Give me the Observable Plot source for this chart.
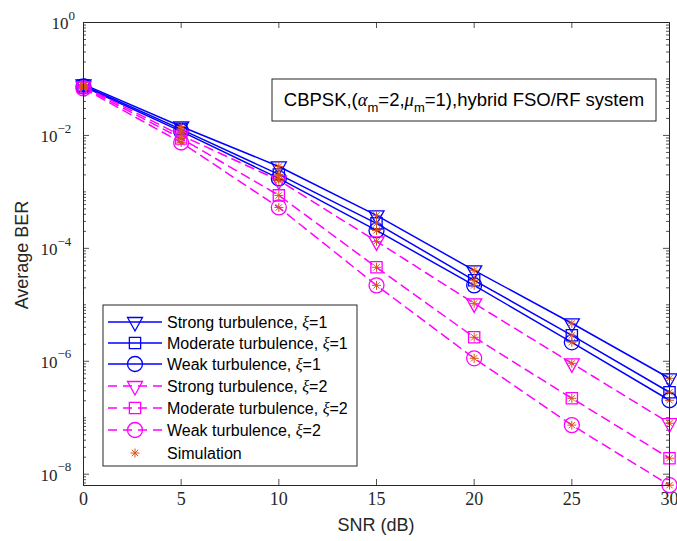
<!DOCTYPE html>
<html><head><meta charset="utf-8">
<script src="https://cdn.jsdelivr.net/npm/d3@7"></script>
<script src="https://cdn.jsdelivr.net/npm/@observablehq/plot@0.6"></script>
<style>
body{margin:0;background:#fff}
#chart{width:677px;height:541px}
</style>
</head><body><div id="chart"></div>
<script>
// ---- data ----
const snr = [0, 5, 10, 15, 20, 25, 30];
const strongXi1   = [0.080, 0.0144, 2.82e-3, 3.84e-4, 4.08e-5, 4.71e-6, 5.0e-7];
const moderateXi1 = [0.0767, 0.0128, 2.04e-3, 2.77e-4, 2.72e-5, 2.88e-6, 2.83e-7];
const weakXi1     = [0.0736, 0.0118, 1.73e-3, 2.08e-4, 2.21e-5, 2.17e-6, 2.04e-7];
const strongXi2   = [0.0736, 0.0100, 1.60e-3, 1.33e-4, 1.06e-5, 9.2e-7, 8.0e-8];
const moderateXi2 = [0.0708, 8.85e-3, 8.67e-4, 4.61e-5, 2.66e-6, 2.21e-7, 1.92e-8];
const weakXi2     = [0.0680, 7.5e-3, 5.3e-4, 2.21e-5, 1.13e-6, 7.4e-8, 6.4e-9];
const seriesLabels = ["Strong turbulence, ", "Moderate turbulence, ", "Weak turbulence, ",
                      "Strong turbulence, ", "Moderate turbulence, ", "Weak turbulence, "];
const seriesXi = ["1","1","1","2","2","2"];
const simLabel = "Simulation";
const xTicks = [0, 5, 10, 15, 20, 25, 30];
const yTicks = [1, 1e-2, 1e-4, 1e-6, 1e-8];
const yTickExp = ["0", "\u22122", "\u22124", "\u22126", "\u22128"];

// ---- styles ----
const BLUE = "#0000ff", MAG = "#ff00ff", SIM = "#d95319", AX = "#262626";
const serif = "'Liberation Serif', 'DejaVu Serif', serif";
const sans = "'Liberation Sans', Arial, Helvetica, sans-serif";

const triDown = {draw(ctx, size){ const r = Math.sqrt(size/Math.PI);
  ctx.moveTo(-r, -0.6*r); ctx.lineTo(r, -0.6*r); ctx.lineTo(0, 1.2*r); ctx.closePath(); }};
const sq = {draw(ctx, size){ const r = Math.sqrt(size/Math.PI)*0.75;
  ctx.moveTo(-r,-r); ctx.lineTo(r,-r); ctx.lineTo(r,r); ctx.lineTo(-r,r); ctx.closePath(); }};
const circ = {draw(ctx, size){ const r = Math.sqrt(size/Math.PI);
  ctx.moveTo(r,0); ctx.arc(0,0,r,0,2*Math.PI); }};
const star = {draw(ctx, size){ const r = Math.sqrt(size/Math.PI);
  for (let k=0;k<4;k++){ const a = k*Math.PI/4; const c=Math.cos(a)*r, s=Math.sin(a)*r;
    ctx.moveTo(-c,-s); ctx.lineTo(c,s);} }};

const allSeries = [strongXi1, moderateXi1, weakXi1, strongXi2, moderateXi2, weakXi2];
const symbols = [triDown, sq, circ, triDown, sq, circ];
const colors = [BLUE, BLUE, BLUE, MAG, MAG, MAG];
const dashes = [null, null, null, "9,6", "9,6", "9,6"];

const rows = allSeries.map((s, i) => snr.map((x, j) => ({snr: x, ber: s[j], series: i})));
const allRows = rows.flat();

// layout
const W = 677, H = 541, mL = 83, mR = 8, mT = 22, mB = 56;
const yMin = Math.pow(10, -8.2), yMax = 1;
const pxPerX = (W - mL - mR) / 30;
const pxPerDec = (H - mT - mB) / 8.2;
const dx = px => px / pxPerX;
const fy = px => Math.pow(10, px / pxPerDec);

const minor = [];
for (let k = -9; k <= -1; k++) for (let m = 1; m <= 9; m++) {
  const v = m * Math.pow(10, k);
  if (v >= yMin && v < yMax && !(m === 1 && k % 2 === 0)) minor.push(v);
}

const marks = [];
marks.push(Plot.ruleY(yTicks, {y: d => d, x1: 0, x2: dx(6), stroke: AX, strokeWidth: 0.8}));
marks.push(Plot.ruleY(yTicks, {y: d => d, x1: 30 - dx(6), x2: 30, stroke: AX, strokeWidth: 0.8}));
marks.push(Plot.ruleY(minor, {y: d => d, x1: 0, x2: dx(3), stroke: AX, strokeWidth: 0.8}));
marks.push(Plot.ruleY(minor, {y: d => d, x1: 30 - dx(3), x2: 30, stroke: AX, strokeWidth: 0.8}));
marks.push(Plot.ruleX(xTicks, {x: d => d, y1: yMin, y2: yMin * fy(6), stroke: AX, strokeWidth: 0.8}));
marks.push(Plot.ruleX(xTicks, {x: d => d, y1: yMax / fy(6), y2: yMax, stroke: AX, strokeWidth: 0.8}));
rows.forEach((r, i) => {
  marks.push(Plot.line(r, {x: "snr", y: "ber", stroke: colors[i], strokeWidth: 1.5,
    strokeDasharray: dashes[i] || undefined}));
});
rows.forEach((r, i) => {
  marks.push(Plot.dot(r, {x: "snr", y: "ber", symbol: symbols[i], r: 7.5, fill: "none",
    stroke: colors[i], strokeWidth: 1.3}));
});
marks.push(Plot.dot(allRows, {x: "snr", y: "ber", symbol: star, r: 4.5, fill: "none", stroke: SIM, strokeWidth: 1}));
marks.push(Plot.frame({stroke: AX, strokeWidth: 1}));
marks.push(Plot.axisX({ticks: xTicks, tickSize: 0, tickPadding: 7, label: null,
  tickFormat: d => String(d), fontFamily: serif, fontSize: 18, fill: AX}));
marks.push(Plot.axisY({ticks: [], label: null, tickSize: 0}));
marks.push(Plot.text(yTicks.slice(0,1), {x: () => 0, y: d => d, text: () => "10", textAnchor: "start",
  dx: -32, dy: 1, fontFamily: serif, fontSize: 17, fill: AX}));
marks.push(Plot.text(yTicks.slice(0,1), {x: () => 0, y: d => d, text: () => yTickExp[0], textAnchor: "start",
  dx: -15, dy: -7, fontFamily: serif, fontSize: 13, fill: AX}));
marks.push(Plot.text(yTicks.slice(1), {x: () => 0, y: d => d, text: () => "10", textAnchor: "start",
  dx: -43, dy: 1, fontFamily: serif, fontSize: 17, fill: AX}));
marks.push(Plot.text(yTicks.slice(1), {x: () => 0, y: d => d, text: (d, i) => yTickExp[i + 1], textAnchor: "start",
  dx: -26, dy: -7, fontFamily: serif, fontSize: 13, fill: AX}));

const plot = Plot.plot({
  width: W, height: H, marginLeft: mL, marginRight: mR, marginTop: mT, marginBottom: mB,
  style: {background: "#fff", overflow: "visible"},
  x: {domain: [0, 30], axis: null},
  y: {type: "log", domain: [yMin, yMax], axis: null},
  marks
});

const svg = d3.select(plot);
svg.append("text").attr("x", 376).attr("y", 531).attr("text-anchor", "middle")
  .attr("font-family", sans).attr("font-size", 18).attr("fill", AX).text("SNR (dB)");
svg.append("text").attr("transform", "translate(28,255) rotate(-90)").attr("text-anchor", "middle")
  .attr("font-family", sans).attr("font-size", 18).attr("fill", AX).text("Average BER");

const ann = svg.append("g");
ann.append("rect").attr("x", 272).attr("y", 79).attr("width", 384).attr("height", 42)
  .attr("fill", "#fff").attr("stroke", AX).attr("stroke-width", 1);
const at = ann.append("text").attr("x", 464).attr("y", 106).attr("text-anchor", "middle")
  .attr("font-family", sans).attr("font-size", 18.5).attr("fill", "#000");
at.append("tspan").text("CBPSK,(");
at.append("tspan").attr("font-family", serif).attr("font-style", "italic").text("\u03b1");
at.append("tspan").attr("font-size", 13).attr("dy", 6).text("m");
at.append("tspan").attr("dy", -6).text("=2,");
at.append("tspan").attr("font-family", serif).attr("font-style", "italic").text("\u03bc");
at.append("tspan").attr("font-size", 13).attr("dy", 6).text("m");
at.append("tspan").attr("dy", -6).text("=1),hybrid FSO/RF system");

const lg = svg.append("g");
lg.append("rect").attr("x", 103).attr("y", 305).attr("width", 254).attr("height", 161)
  .attr("fill", "#fff").attr("stroke", AX).attr("stroke-width", 1);
const rowY = [322, 343, 364, 386, 408, 430, 453];
function symPath(sym, r) { const p = d3.path(); sym.draw(p, r * r * Math.PI); return p.toString(); }
for (let i = 0; i < 6; i++) {
  const y = rowY[i];
  lg.append("line").attr("x1", 108).attr("x2", 162).attr("y1", y).attr("y2", y)
    .attr("stroke", colors[i]).attr("stroke-width", 1.5)
    .attr("stroke-dasharray", dashes[i] || null);
  lg.append("path").attr("d", symPath(symbols[i], 7.5)).attr("transform", `translate(135,${y})`)
    .attr("fill", "none").attr("stroke", colors[i]).attr("stroke-width", 1.3);
  const t = lg.append("text").attr("x", 167).attr("y", y + 5.5).attr("text-anchor", "start")
    .attr("font-family", sans).attr("font-size", 16).attr("fill", "#000");
  t.append("tspan").text(seriesLabels[i]);
  t.append("tspan").attr("font-family", serif).attr("font-style", "italic").text("\u03be");
  t.append("tspan").text("=" + seriesXi[i]);
}
lg.append("path").attr("d", symPath(star, 4.5)).attr("transform", `translate(135,${rowY[6]})`)
  .attr("fill", "none").attr("stroke", SIM).attr("stroke-width", 1);
lg.append("text").attr("x", 167).attr("y", rowY[6] + 5.5).attr("text-anchor", "start")
  .attr("font-family", sans).attr("font-size", 16).attr("fill", "#000").text(simLabel);

document.getElementById("chart").appendChild(plot);
</script>
</body></html>
